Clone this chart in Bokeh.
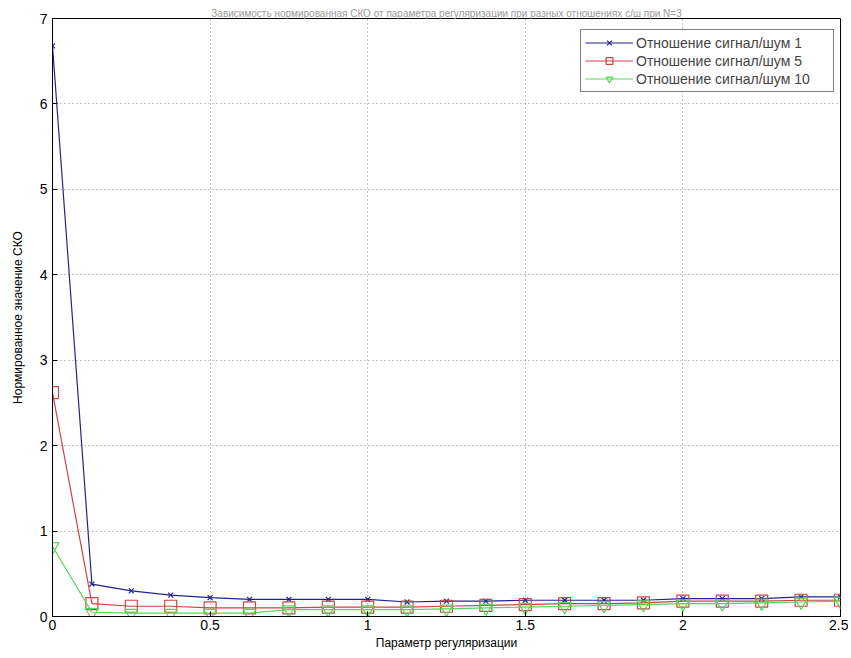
from bokeh.plotting import figure
from bokeh.models import Legend, LegendItem, FixedTicker, Title
from bokeh.embed import file_html
from bokeh.resources import INLINE

x_vals = [0, 0.125, 0.25, 0.375, 0.5, 0.625, 0.75, 0.875, 1.0, 1.125, 1.25,
          1.375, 1.5, 1.625, 1.75, 1.875, 2.0, 2.125, 2.25, 2.375, 2.5]
snr1 = [6.68, 0.38, 0.30, 0.25, 0.22, 0.20, 0.20, 0.20, 0.20, 0.17, 0.18,
        0.18, 0.19, 0.19, 0.19, 0.19, 0.21, 0.21, 0.21, 0.23, 0.23]
snr5 = [2.62, 0.15, 0.12, 0.12, 0.10, 0.10, 0.10, 0.11, 0.11, 0.11, 0.12,
        0.13, 0.14, 0.15, 0.15, 0.16, 0.18, 0.18, 0.18, 0.19, 0.19]
snr10 = [0.82, 0.05, 0.04, 0.04, 0.04, 0.04, 0.08, 0.08, 0.08, 0.08, 0.09,
         0.10, 0.11, 0.12, 0.13, 0.14, 0.15, 0.15, 0.16, 0.17, 0.18]
labels = ["Отношение сигнал/шум 1", "Отношение сигнал/шум 5", "Отношение сигнал/шум 10"]
x_ticks = [0, 0.5, 1, 1.5, 2, 2.5]
y_ticks = [0, 1, 2, 3, 4, 5, 6, 7]
title_text = "Зависимость нормированная СКО от параметра регуляризации при разных отношениях с/ш при N=3"
x_label = "Параметр регуляризации"
y_label = "Нормированное значение СКО"

FONT = "Liberation Sans"

p = figure(width=848, height=652, output_backend="svg", toolbar_location=None,
           x_range=(0, 2.5), y_range=(0, 7),
           min_border_left=52, min_border_right=8, min_border_top=18, min_border_bottom=36)

t = Title(text=title_text, text_font=FONT, text_font_size="10px", text_color="#9a9a9a",
          text_font_style="normal", align="center", standoff=0, offset=0)
p.add_layout(t, "above")

p.outline_line_color = "black"
p.outline_line_width = 1
p.background_fill_color = "white"

for ax in (p.xaxis[0], p.yaxis[0]):
    ax.major_tick_in = 5
    ax.major_tick_out = 0
    ax.minor_tick_in = 0
    ax.minor_tick_out = 0
    ax.axis_line_color = "black"
    ax.major_tick_line_color = "black"
    ax.major_label_text_font = FONT
    ax.major_label_text_font_size = "14px"
    ax.major_label_text_color = "black"
    ax.axis_label_text_font = FONT
    ax.axis_label_text_font_size = "12px"
    ax.axis_label_text_font_style = "normal"
    ax.axis_label_text_color = "black"

p.xaxis.ticker = FixedTicker(ticks=x_ticks)
p.yaxis.ticker = FixedTicker(ticks=y_ticks)
p.xaxis.major_label_overrides = {0: "0", 0.5: "0.5", 1: "1", 1.5: "1.5", 2: "2", 2.5: "2.5"}
p.xaxis.axis_label = x_label
p.yaxis.axis_label = y_label
p.xaxis.major_label_standoff = 3
p.yaxis.major_label_standoff = 5
p.xaxis.axis_label_standoff = 3
p.yaxis.axis_label_standoff = 12

p.grid.grid_line_color = "#8a8a8a"
p.grid.grid_line_dash = "1 3"
p.grid.grid_line_width = 1

blue = "#23238a"
red = "#cc4444"
green = "#55d855"

r1l = p.line(x_vals, snr1, line_color=blue, line_width=1.2)
r1m = p.scatter(x_vals, snr1, marker="x", size=7, line_color=blue, line_width=1.2)
r2l = p.line(x_vals, snr5, line_color=red, line_width=1.2)
r2m = p.scatter(x_vals, snr5, marker="square", size=12, line_color=red, fill_color=None, line_width=1.2)
r3l = p.line(x_vals, snr10, line_color=green, line_width=1.2)
r3m = p.scatter(x_vals, snr10, marker="inverted_triangle", size=13, line_color=green, fill_color=None, line_width=1.2)

legend = Legend(items=[
    LegendItem(label=labels[0], renderers=[r1l, r1m]),
    LegendItem(label=labels[1], renderers=[r2l, r2m]),
    LegendItem(label=labels[2], renderers=[r3l, r3m]),
], location=(528, 524))
legend.label_text_font = FONT
legend.label_text_font_size = "14px"
legend.label_height = 17
legend.glyph_height = 17
legend.glyph_width = 48
legend.label_width = 193
legend.spacing = 1
legend.padding = 4
legend.margin = 0
legend.border_line_color = "black"
legend.border_line_width = 1
legend.label_standoff = 3
p.add_layout(legend)

open("out.html", "w").write(file_html(p, INLINE))
